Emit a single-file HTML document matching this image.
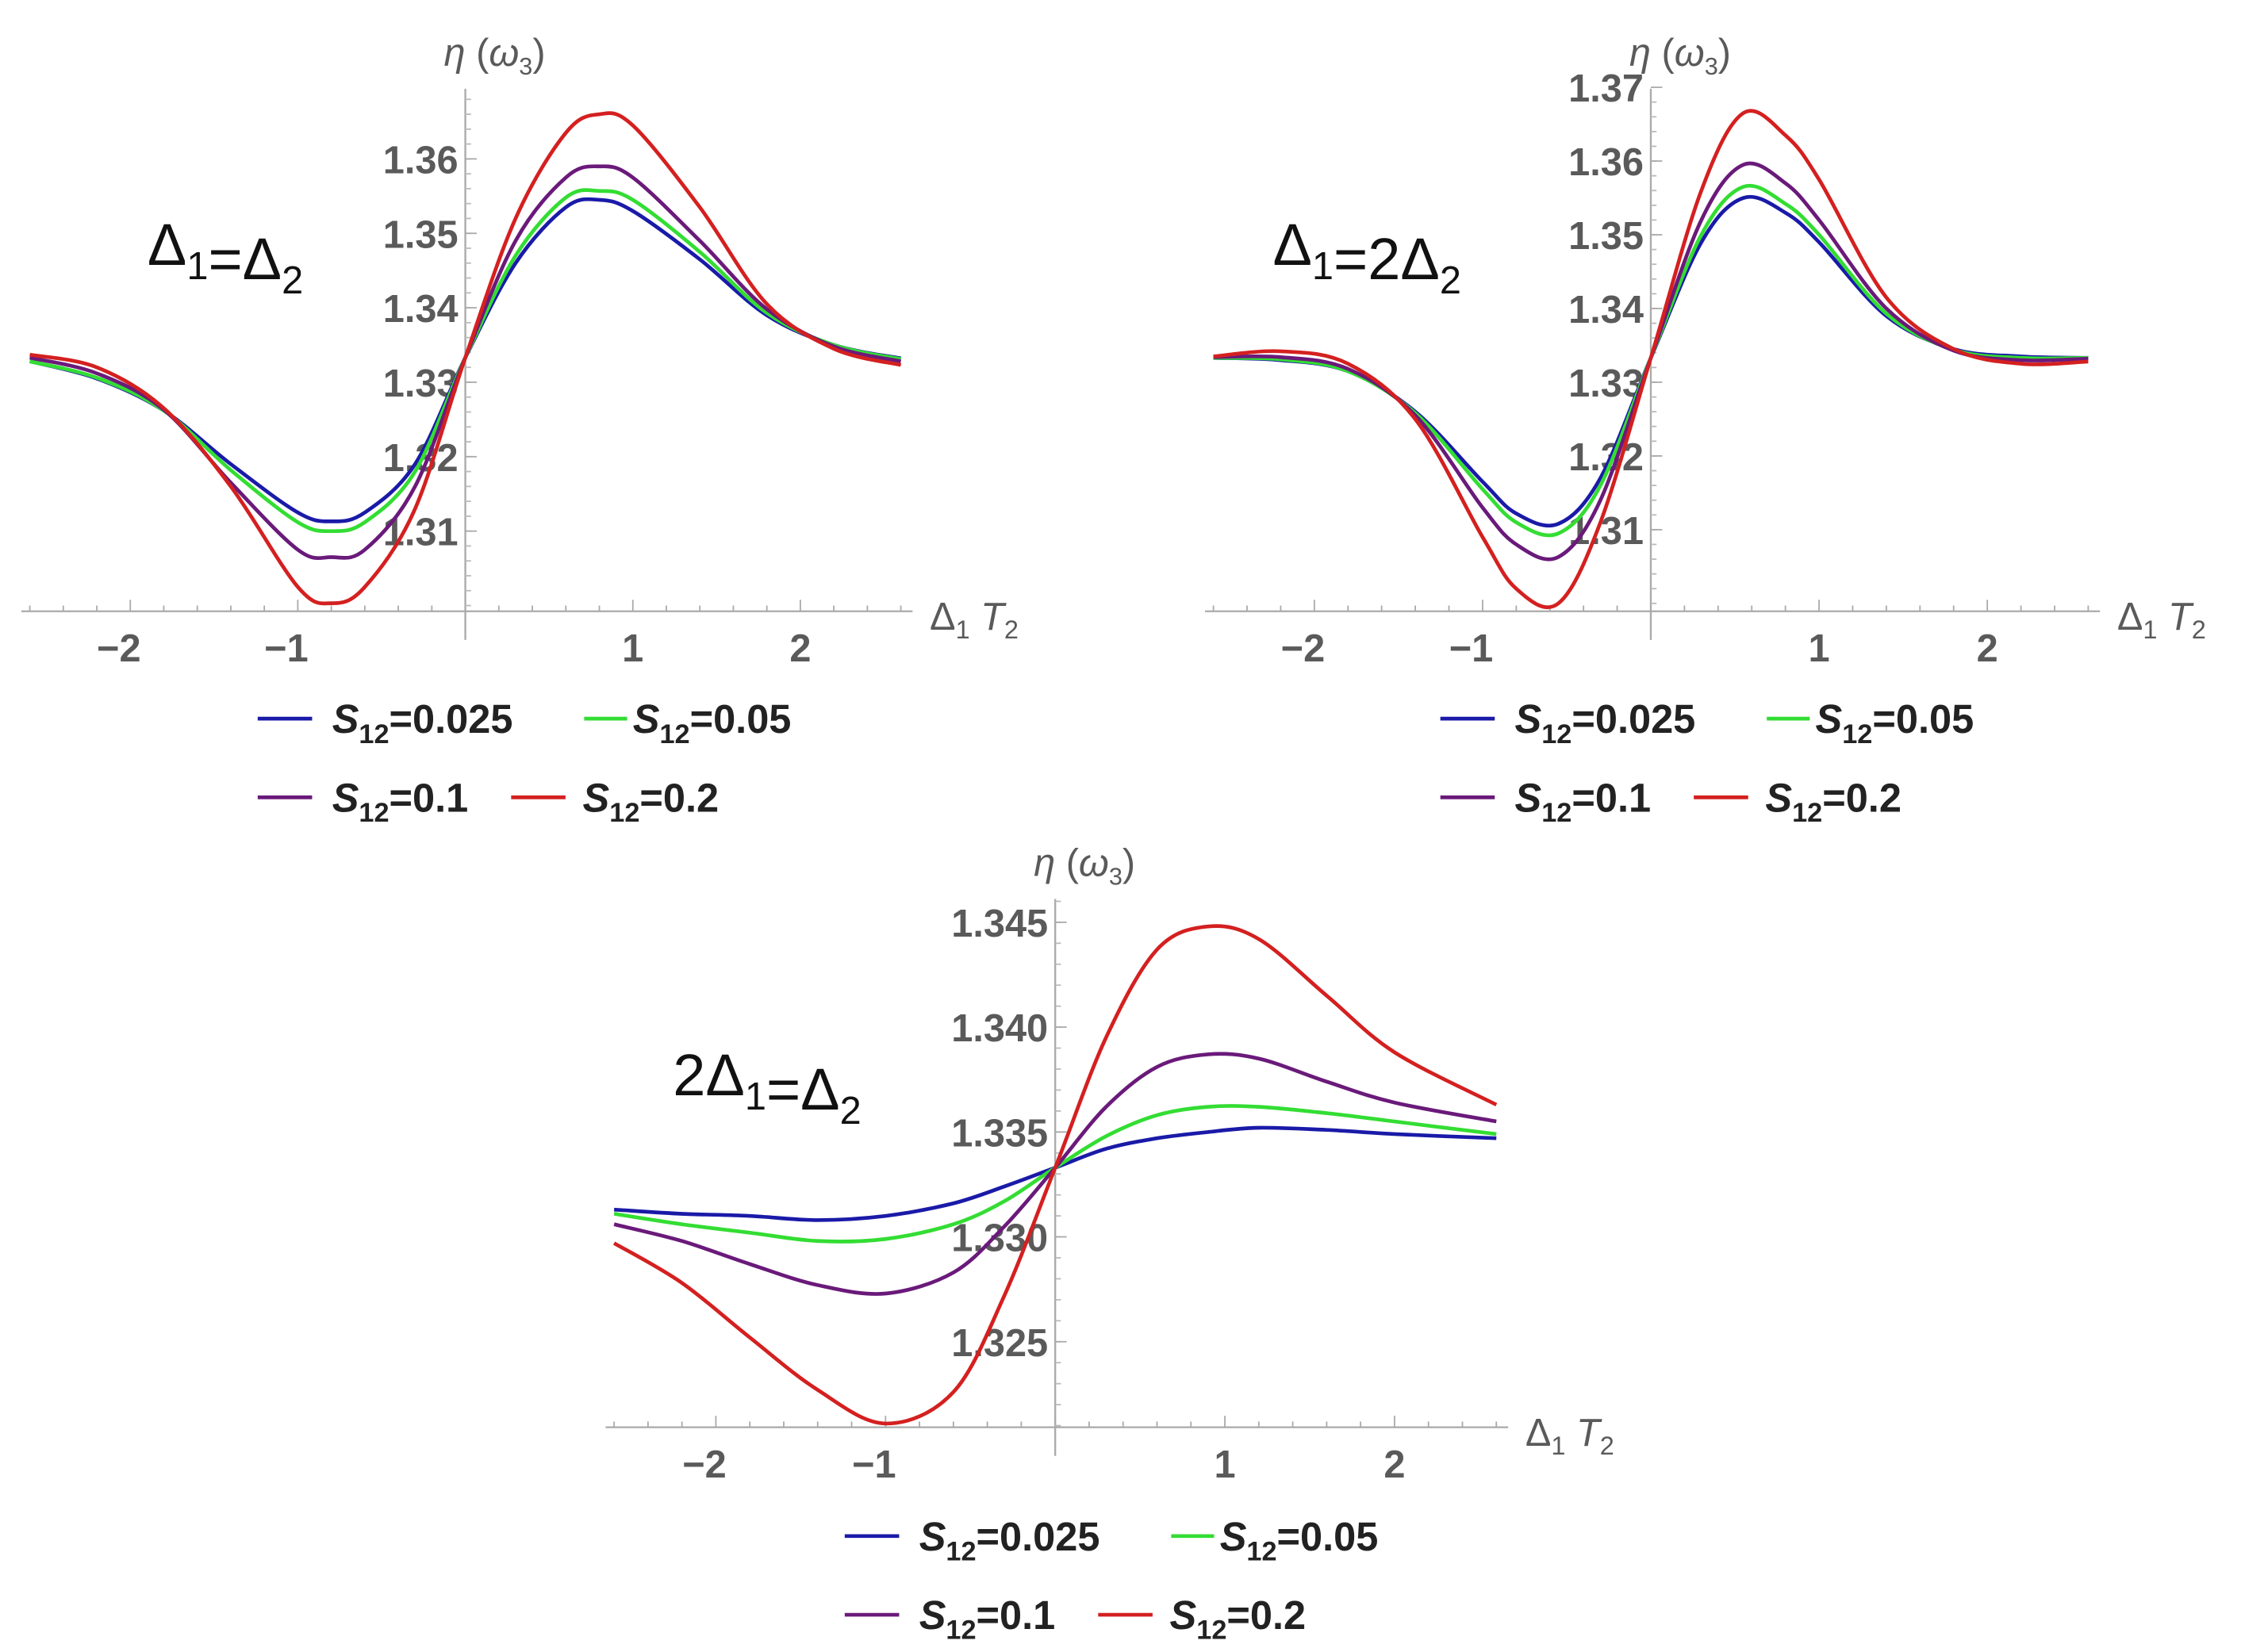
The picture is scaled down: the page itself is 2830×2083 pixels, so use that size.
<!DOCTYPE html>
<html><head><meta charset="utf-8">
<style>
html,body{margin:0;padding:0;background:#fff;}
svg{display:block;}
.tick{font-family:"Liberation Sans",sans-serif;font-weight:bold;font-size:27px;fill:#5a5a5a;}
.axl{font-family:"Liberation Sans",sans-serif;font-size:27px;fill:#5a5a5a;}
.ttl{font-family:"Liberation Sans",sans-serif;font-size:41px;fill:#111;}
.leg{font-family:"Liberation Sans",sans-serif;font-weight:bold;font-size:28px;fill:#222;}
</style></head>
<body>
<svg id="fig" width="2830" height="2083" viewBox="0 0 1568 1154" preserveAspectRatio="none" xmlns="http://www.w3.org/2000/svg"></svg>
<script>
// ---- data ----
const seriesNames = ["S12=0.025","S12=0.05","S12=0.1","S12=0.2"];
const seriesColors = ["#1a1aa8","#33dd33","#6a1a7a","#d42020"];

const xA = [-2.6,-2.2,-1.8,-1.4,-1.0,-0.8,-0.6,-0.3,0,0.3,0.6,0.8,1.0,1.4,1.8,2.2,2.6];
const a_blue   = [1.3328,1.3305,1.3262,1.3190,1.3125,1.3113,1.3125,1.3190,1.3333,1.3460,1.3535,1.3545,1.3530,1.3465,1.3390,1.3350,1.3332];
const a_green  = [1.3328,1.3306,1.3262,1.3182,1.3112,1.3100,1.3112,1.3180,1.3333,1.3470,1.3548,1.3557,1.3545,1.3475,1.3393,1.3350,1.3331];
const a_purple = [1.3333,1.3312,1.3263,1.3165,1.3075,1.3065,1.3075,1.3160,1.3333,1.3490,1.3575,1.3590,1.3575,1.3490,1.3398,1.3348,1.3328];
const a_red    = [1.3337,1.3320,1.3265,1.3160,1.3025,1.3003,1.3025,1.3130,1.3333,1.3520,1.3635,1.3660,1.3645,1.3535,1.3405,1.3345,1.3323];

const xB = [-2.6,-2.2,-1.8,-1.4,-1.0,-0.8,-0.55,-0.3,0,0.3,0.55,0.8,1.0,1.4,1.8,2.2,2.6];
const b_blue   = [1.3333,1.3330,1.3315,1.3260,1.3165,1.3122,1.3108,1.3170,1.3333,1.3490,1.3550,1.3530,1.3490,1.3390,1.3345,1.3335,1.3333];
const b_green  = [1.3333,1.3331,1.3315,1.3258,1.3155,1.3110,1.3095,1.3160,1.3333,1.3500,1.3565,1.3542,1.3500,1.3393,1.3344,1.3333,1.3333];
const b_purple = [1.3334,1.3334,1.3318,1.3255,1.3130,1.3080,1.3063,1.3140,1.3333,1.3520,1.3595,1.3570,1.3520,1.3400,1.3343,1.3330,1.3332];
const b_red    = [1.3335,1.3342,1.3325,1.3250,1.3090,1.3020,1.3000,1.3110,1.3333,1.3560,1.3665,1.3635,1.3575,1.3415,1.3345,1.3325,1.3328];

const xC = [-2.6,-2.2,-1.8,-1.4,-1.0,-0.6,-0.3,0,0.3,0.6,0.9,1.2,1.6,2.0,2.6];
const c_blue   = [1.3313,1.3311,1.3310,1.3308,1.3310,1.3316,1.3324,1.3333,1.3342,1.3347,1.3350,1.3352,1.3351,1.3349,1.3347];
const c_green  = [1.3311,1.3306,1.3302,1.3298,1.3299,1.3306,1.3317,1.3333,1.3348,1.3358,1.3362,1.3362,1.3359,1.3355,1.3349];
const c_purple = [1.3306,1.3298,1.3287,1.3277,1.3273,1.3283,1.3305,1.3333,1.3362,1.3381,1.3387,1.3385,1.3374,1.3364,1.3355];
const c_red    = [1.3297,1.3278,1.3252,1.3227,1.3211,1.3226,1.3272,1.3333,1.3395,1.3437,1.3448,1.3442,1.3415,1.3388,1.3363];

const xTicks = [-2,-1,1,2];
const yTicksA = [1.31,1.32,1.33,1.34,1.35,1.36];
const yTicksB = [1.31,1.32,1.33,1.34,1.35,1.36,1.37];
const yTicksC = [1.325,1.330,1.335,1.340,1.345];

// ---- layout ----
const NS = "http://www.w3.org/2000/svg";
const fig = document.getElementById('fig');
function mk(tag, attrs, parent){const e=document.createElementNS(NS,tag);for(const k in attrs)e.setAttribute(k,attrs[k]);(parent||fig).appendChild(e);return e;}

const panels = [
 {id:'a', title:'Δ1=Δ2', tx:103, ty:185, ox:325, oy:427, xu:117, y0:1.33, yPix:267, yu:5200, data:[a_blue,a_green,a_purple,a_red], xv:xA, yt:yTicksA, dec:2, ytop:62, legX:180, legY:502},
 {id:'b', title:'Δ1=2Δ2', tx:889, ty:185, ox:1153, oy:427, xu:117.5, y0:1.33, yPix:267, yu:5150, data:[b_blue,b_green,b_purple,b_red], xv:xB, yt:yTicksB, dec:2, ytop:62, legX:1006, legY:502},
 {id:'c', title:'2Δ1=Δ2', tx:470, ty:765, ox:737, oy:997, xu:118.5, y0:1.33, yPix:864, yu:14650, data:[c_blue,c_green,c_purple,c_red], xv:xC, yt:yTicksC, dec:3, ytop:628, legX:590, legY:1073}
];

function pathFrom(px,py){
  let d='M'+px[0]+','+py[0];
  for(let i=0;i<px.length-1;i++){
    const p0x=px[Math.max(0,i-1)],p0y=py[Math.max(0,i-1)];
    const p3x=px[Math.min(px.length-1,i+2)],p3y=py[Math.min(px.length-1,i+2)];
    const c1x=px[i]+(px[i+1]-p0x)/6,c1y=py[i]+(py[i+1]-p0y)/6;
    const c2x=px[i+1]-(p3x-px[i])/6,c2y=py[i+1]-(p3y-py[i])/6;
    d+=' C'+c1x.toFixed(1)+','+c1y.toFixed(1)+' '+c2x.toFixed(1)+','+c2y.toFixed(1)+' '+px[i+1].toFixed(1)+','+py[i+1].toFixed(1);
  }
  return d;
}

panels.forEach(p=>{
  const g = mk('g',{});
  
  
  const X = v => p.ox + v*p.xu;
  const Y = v => p.yPix - (v-p.y0)*p.yu;
  const left = X(-2.65), right = X(2.67);
  const xa = mk('line',{x1:left,y1:p.oy,x2:right,y2:p.oy,stroke:'#aaa','stroke-width':1.3},g);
  
  
  for(let v=-2.6; v<=2.61; v+=0.2){
    const major = Math.abs(v-Math.round(v))<0.01;
    mk('line',{x1:X(v),y1:p.oy,x2:X(v),y2:p.oy-(major?8:4),stroke:'#aaa','stroke-width':1},g);
  }
  xTicks.forEach(v=>{
    const t = mk('text',{x:X(v)-(v<0?8:0),y:p.oy+35,'text-anchor':'middle',class:'tick'},g);
    t.textContent = v<0 ? '−'+Math.abs(v) : String(v);
    
    
  });
  const xl = mk('text',{x:right+12,y:p.oy+13,class:'axl'},g);
  xl.innerHTML = 'Δ<tspan font-size="18" dy="6">1</tspan><tspan dy="-6" font-style="italic"> T</tspan><tspan font-size="18" dy="6">2</tspan>';
  
  
  const ya = mk('line',{x1:p.ox,y1:p.ytop,x2:p.ox,y2:p.oy+20,stroke:'#aaa','stroke-width':1.3},g);
  
  
  const step = (p.yt[1]-p.yt[0])/5;
  for(let v=p.yt[0]-5*step; v<=p.yt[p.yt.length-1]+5*step; v+=step){
    const yy=Y(v); if(yy<p.ytop||yy>p.oy) continue;
    mk('line',{x1:p.ox,y1:yy,x2:p.ox+4,y2:yy,stroke:'#bbb','stroke-width':1},g);
  }
  p.yt.forEach(v=>{
    mk('line',{x1:p.ox,y1:Y(v),x2:p.ox+8,y2:Y(v),stroke:'#aaa','stroke-width':1},g);
    const t = mk('text',{x:p.ox-5,y:Y(v)+10,'text-anchor':'end',class:'tick'},g);
    t.textContent = v.toFixed(p.dec);
    
    
  });
  const yl = mk('text',{x:p.ox-15,y:p.ytop-16,class:'axl','font-size':'25'},g);
  yl.innerHTML = '<tspan font-style="italic">η</tspan> (<tspan font-style="italic">ω</tspan><tspan font-size="17" dy="6">3</tspan><tspan dy="-6">)</tspan>';
  
  
  const tt = mk('text',{x:p.tx,y:p.ty,class:'ttl'},g);
  tt.innerHTML = p.title.replace(/Δ(\d)/g,'Δ<tspan font-size="27" dy="10">$1</tspan><tspan dy="-10"></tspan>');
  
  
  p.data.forEach((vals,i)=>{
    const px = p.xv.map(X), py = vals.map(Y);
    const path = mk('path',{d:pathFrom(px,py),fill:'none',stroke:seriesColors[i],'stroke-width':2.6},g);
    
    
  });
  // legend: [line x offset, row offset, line length, text offset]
  const pos = [[0,0,38,52],[228,0,30,262],[0,55,38,52],[177,55,38,227]];
  seriesNames.forEach((n,i)=>{
    const lx = p.legX+pos[i][0], ly = p.legY+pos[i][1];
    const lg = mk('g',{},g);
    
    
    mk('line',{x1:lx,y1:ly,x2:lx+pos[i][2],y2:ly,stroke:seriesColors[i],'stroke-width':2.6},lg);
    const t = mk('text',{x:p.legX+pos[i][3],y:ly+10,class:'leg'},lg);
    t.innerHTML = '<tspan font-style="italic">S</tspan><tspan font-size="19" dy="7">12</tspan><tspan dy="-7">'+n.slice(3)+'</tspan>';
  });
});
</script>
</body></html>
